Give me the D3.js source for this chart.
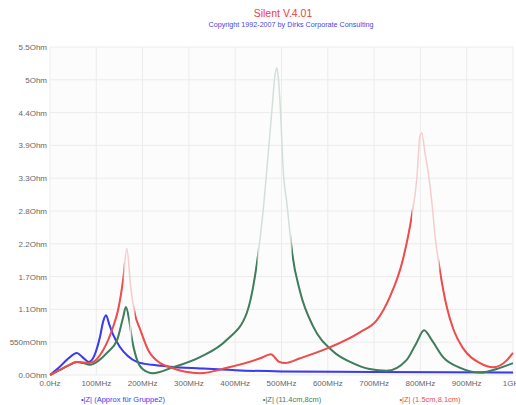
<!DOCTYPE html>
<html>
<head>
<meta charset="utf-8">
<script src="https://cdn.jsdelivr.net/npm/d3@7"></script>
<style>
	body { margin: 0; background: #fff; }
	text { font-family: "Liberation Sans", Arial, sans-serif; }
</style>
</head>
<body>
<svg id="chart" width="516" height="405"></svg>
<script>
// frequency in MHz, |Z| in Ohm
var blueData = [[0,0],[20,0.13],[40,0.28],[58,0.37],[70,0.3],[84,0.22],[96,0.33],[108,0.64],[115,0.9],[121,1.0],[128,0.85],[136,0.68],[151,0.47],[168,0.32],[188,0.22],[220,0.17],[259,0.14],[324,0.11],[400,0.08],[500,0.06],[700,0.05],[1000,0.04]];
var greenData = [[0,0],[20,0.08],[40,0.16],[58,0.22],[72,0.2],[86,0.17],[105,0.24],[123,0.37],[145,0.59],[158,0.97],[164,1.14],[171,0.92],[177,0.6],[186,0.3],[200,0.1],[222,0.03],[266,0.13],[324,0.3],[382,0.59],[425,1.04],[447,1.88],[460,2.73],[471,3.69],[479,4.41],[486,5.03],[490,5.15],[493,5.0],[499,4.24],[503,3.52],[512,2.85],[518,2.4],[523,2.05],[540,1.4],[568,0.82],[611,0.4],[654,0.2],[690,0.1],[727,0.07],[770,0.25],[791,0.53],[808,0.75],[825,0.58],[849,0.3],[886,0.12],[929,0.04],[972,0.12],[1000,0.2]];
var redData = [[0,0],[20,0.08],[40,0.16],[58,0.22],[72,0.21],[86,0.2],[115,0.42],[136,0.8],[147,1.09],[158,1.6],[166,2.12],[174,1.5],[184,1.0],[194,0.78],[212,0.42],[238,0.2],[259,0.13],[290,0.06],[324,0.03],[382,0.12],[454,0.28],[477,0.35],[495,0.22],[508,0.2],[540,0.28],[600,0.45],[670,0.72],[706,0.92],[734,1.31],[762,1.93],[781,2.65],[792,3.27],[799,4.0],[803,4.06],[810,3.72],[817,3.39],[825,2.88],[832,2.31],[842,1.76],[857,1.14],[872,0.75],[892,0.45],[929,0.2],[957,0.13],[987,0.25],[1000,0.37]];

var yTicks = [0, 0.55, 1.1, 1.65, 2.2, 2.75, 3.3, 3.85, 4.4, 4.95, 5.5];
var yTickLabels = ["0.0Ohm","550mOhm","1.1Ohm","1.7Ohm","2.2Ohm","2.8Ohm","3.3Ohm","3.9Ohm","4.4Ohm","5Ohm","5.5Ohm"];
var xTicks = [0,100,200,300,400,500,600,700,800,900,1000];
var xTickLabels = ["0.0Hz","100MHz","200MHz","300MHz","400MHz","500MHz","600MHz","700MHz","800MHz","900MHz","1GHz"];

var series = [
	{ id: "blue", name: "•|Z| (Approx für Gruppe2)", data: blueData, color: "#3b3bf0", faint: "#b8b8f8", lx: 123 },
	{ id: "green", name: "•|Z| (11.4cm,8cm)", data: greenData, color: "#3f7d5c", faint: "#d3e0d8", lx: 292 },
	{ id: "red", name: "•|Z| (1.5cm,8.1cm)", data: redData, color: "#ef4c4c", faint: "#f7cccc", lx: 430 }
];

var svg = d3.select("#chart");
var plotLeft = 50, plotRight = 513, plotTop = 47, plotBottom = 375;

var x = d3.scaleLinear().domain([0, 1000]).range([plotLeft, plotRight]);
var y = d3.scaleLinear().domain([0, 5.5]).range([plotBottom, plotTop]);

// plot background
svg.append("rect")
	.attr("x", plotLeft).attr("y", plotTop)
	.attr("width", plotRight - plotLeft).attr("height", plotBottom - plotTop)
	.attr("fill", "#fcfcfc");

// grid
svg.append("g")
	.selectAll("line")
	.data(yTicks)
	.enter()
	.append("line")
	.attr("x1", plotLeft).attr("x2", plotRight)
	.attr("y1", d => y(d)).attr("y2", d => y(d))
	.attr("stroke", "#ececec");

svg.append("g")
	.selectAll("line")
	.data(xTicks)
	.enter()
	.append("line")
	.attr("x1", d => x(d)).attr("x2", d => x(d))
	.attr("y1", plotTop).attr("y2", plotBottom)
	.attr("stroke", "#ececec");

// axis labels
svg.append("g")
	.selectAll("text")
	.data(yTicks)
	.enter()
	.append("text")
	.attr("x", plotLeft - 3)
	.attr("y", d => y(d) + 3)
	.attr("text-anchor", "end")
	.attr("font-size", 8)
	.attr("fill", "#666")
	.text((d, i) => yTickLabels[i]);

svg.append("g")
	.selectAll("text")
	.data(xTicks)
	.enter()
	.append("text")
	.attr("x", d => x(d))
	.attr("y", plotBottom + 11)
	.attr("text-anchor", "middle")
	.attr("font-size", 8)
	.attr("fill", "#666")
	.text((d, i) => xTickLabels[i]);

// title
svg.append("text")
	.attr("x", 283).attr("y", 17)
	.attr("text-anchor", "middle")
	.attr("font-size", 10.5)
	.attr("fill", "#f03c3c")
	.text("Silent V.4.01");

svg.append("text")
	.attr("x", 291).attr("y", 27)
	.attr("text-anchor", "middle")
	.attr("font-size", 7.2)
	.attr("fill", "#4646e6")
	.text("Copyright 1992-2007 by Dirks Corporate Consulting");

var line = d3.line()
	.x(d => x(d[0]))
	.y(d => y(d[1]))
	.curve(d3.curveMonotoneX);

// steep parts of the curves look washed out in the original,
// so the dark line is only shown (via a clip) where a segment is not steep
function flatSegments(data) {
	var steep = [];
	for (var i = 0; i < data.length - 1; i++) {
		var dx = x(data[i + 1][0]) - x(data[i][0]);
		var dy = Math.abs(y(data[i + 1][1]) - y(data[i][1]));
		steep.push(dy / dx > 6);
	}
	var out = [];
	steep.forEach(function(s, i) {
		// a peak tip between two steep flanks stays washed out too
		var tip = i > 0 && i < steep.length - 1 && steep[i - 1] && steep[i + 1];
		if (!s && !tip) out.push([x(data[i][0]) - 0.5, x(data[i + 1][0]) + 0.5]);
	});
	return out;
}

var defs = svg.append("defs");
var g_lines = svg.append("g").attr("class", "lines");

series.forEach(function(s) {
	g_lines.append("path")
		.attr("d", line(s.data))
		.attr("fill", "none")
		.attr("stroke", s.faint)
		.attr("stroke-width", 1.5);
});

series.forEach(function(s) {
	defs.append("clipPath")
		.attr("id", "clip-" + s.id)
		.selectAll("rect")
		.data(flatSegments(s.data))
		.enter()
		.append("rect")
		.attr("x", d => d[0])
		.attr("width", d => d[1] - d[0])
		.attr("y", 0)
		.attr("height", 405);

	g_lines.append("path")
		.attr("d", line(s.data))
		.attr("clip-path", "url(#clip-" + s.id + ")")
		.attr("fill", "none")
		.attr("stroke", s.color)
		.attr("stroke-width", 2)
		.attr("stroke-linejoin", "round");
});

// legend
svg.append("g")
	.selectAll("text")
	.data(series)
	.enter()
	.append("text")
	.attr("x", d => d.lx)
	.attr("y", 402)
	.attr("text-anchor", "middle")
	.attr("font-size", 7.5)
	.attr("fill", d => d.color)
	.text(d => d.name);
</script>
</body>
</html>
